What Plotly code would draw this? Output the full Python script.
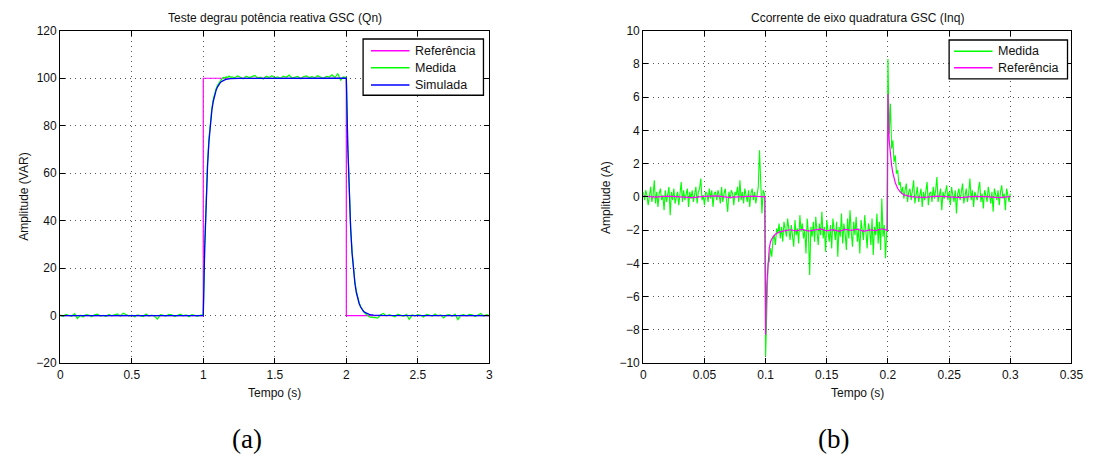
import numpy as np
import plotly.graph_objects as go

# ---------------- (a) Teste degrau potência reativa GSC (Qn) ----------------
# Reference step (VAR)
ref_a_t = [0.0, 1.0, 1.0, 2.0, 2.0, 3.0]
ref_a_v = [0.0, 0.0, 100.0, 100.0, 0.0, 0.0]

# Simulated response (VAR)
sim_a_t = [0.0, 1.00, 1.01, 1.02, 1.03, 1.04, 1.05, 1.06, 1.07, 1.08, 1.09, 1.10,
           1.11, 1.12, 1.13, 1.14, 1.15, 1.16, 1.17, 1.18, 1.19, 1.25, 2.00,
           2.01, 2.02, 2.03, 2.04, 2.05, 2.06, 2.07, 2.08, 2.09, 2.10, 2.11,
           2.12, 2.13, 2.14, 2.15, 2.16, 2.17, 2.18, 2.19, 2.25, 3.00]
sim_a_v = [0.0, 0.0, 28.3, 48.6, 63.2, 73.6, 81.1, 86.5, 90.3, 93.0, 95.0, 96.4,
           97.4, 98.2, 98.7, 99.1, 99.3, 99.5, 99.65, 99.75, 99.82, 99.95, 100.0,
           71.7, 51.4, 36.8, 26.4, 18.9, 13.5, 9.7, 7.0, 5.0, 3.6, 2.6,
           1.8, 1.3, 0.95, 0.68, 0.49, 0.35, 0.25, 0.18, 0.05, 0.0]

# Measured response (VAR), logged in blocks
med_a_pre = [0.3, -0.4, 0.5, 0.2, -0.3, 0.8, -1.2, 0.1, -0.6, 0.4,
             0.2, -0.5, 0.3, 0.6, -0.2, 0.1, -0.4, 0.5, -0.1, 0.3,
             0.7, -0.3, 1.0, 0.4, -0.2, 0.2, -0.5, 0.3, 0.1, -0.4,
             0.6, -0.2, 0.2, -0.3, -1.5, 0.4, 0.1, -0.2, 0.5, 0.3,
             -0.4, 0.2, 0.6, -0.1, 0.3, -0.5, 0.4, 0.1, -0.3, 0.2]          # 0.00 .. 0.98, dt 0.02
med_a_rise = [0.3, 29.5, 50.1, 64.6, 74.8, 82.3, 87.4, 91.2, 93.8, 95.7,
              97.0, 98.1, 98.9, 99.6, 100.3, 100.1, 100.6, 100.2, 100.9, 100.4]  # 1.00 .. 1.19, dt 0.01
med_a_high = [100.6, 100.2, 101.0, 100.4, 99.8, 100.9, 100.3, 100.7, 101.2, 100.1,
              100.5, 99.7, 100.8, 100.3, 101.1, 100.2, 100.6, 99.9, 100.9, 100.4,
              101.3, 100.1, 100.5, 100.8, 99.8, 100.6, 101.0, 100.3, 100.7, 100.2,
              101.1, 100.4, 99.9, 100.8, 100.5, 101.4, 100.2, 102.0, 99.2, 100.6]  # 1.20 .. 1.98, dt 0.02
med_a_fall = [100.3, 72.4, 51.9, 37.6, 27.1, 19.6, 14.2, 10.3, 7.4, 5.3,
              3.9, 2.6, 1.7, 1.0, 0.4, -0.2, -0.5, -0.8, -0.6, -0.9]        # 2.00 .. 2.19, dt 0.01
med_a_post = [-0.8, -1.1, 0.3, 0.9, -0.2, 0.4, 0.1, -0.5, 0.6, 0.2,
              -0.3, 0.5, -1.6, 0.3, -0.2, 0.4, 0.1, -0.6, 0.5, 0.2,
              -0.3, 0.7, -0.1, 0.3, -1.0, 0.2, 0.4, -0.3, 0.6, -1.7,
              0.1, 0.4, -0.2, 0.5, 0.3, -0.4, 0.2, 0.9, -0.3, 0.4, 0.0]     # 2.20 .. 3.00, dt 0.02

# ---------------- (b) Ccorrente de eixo quadratura GSC (Inq) ----------------
# Measured current (A), sampled every 1 ms
med_b_0 = [0.3, -0.2, 0.4, 0.1, -0.5, 0.2, 0.6, -0.3, 0.1, 1.0,
           -0.4, 0.3, -0.6, 0.2, 0.5, -0.2, 0.1, -0.8, 0.4, -0.3,
           0.2, 0.6, -1.1, 0.3, -0.2, 0.5, -0.4, 0.1, 0.3, -0.5,
           0.2, 0.9, -0.3, 0.4, -0.2, 0.1, 0.5, -0.6, 0.3, -0.1,
           0.4, -0.3, 0.2, 0.6, -0.4, 0.3, 0.5, 1.1, -0.2, 0.1,
           -0.5, 0.3, 0.2, -0.3, 0.5, -0.1, 0.4, -0.6, 0.2, 0.3,
           -0.2, 0.4, 0.1, -0.4, 0.6, -0.3, 0.2, 0.5, -0.2, -0.9,
           0.3, -0.1, 0.4, 0.2, -0.5, 0.3, 0.1, 0.6, -0.3, 1.0,
           -0.2, 0.3, -0.4, 0.5, 0.1, -0.3, 0.4, -0.6, 0.2, 0.5,
           -0.2, 0.3, -0.4, 0.2, 0.6, 2.8, 0.1, -1.0, 0.4, 0.2]           # 0.000 .. 0.099
med_b_1 = [-9.6, -6.8, -4.0, -3.9, -3.1, -3.6, -2.6, -2.3, -2.9, -1.9,
           -2.2, -1.6, -2.5, -1.8, -2.7, -1.5, -2.1, -2.4, -1.3, -2.0,
           -2.6, -1.7, -2.2, -3.0, -1.4, -2.3, -1.9, -2.8, -1.1, -2.1,
           -1.6, -2.5, -2.0, -3.4, -1.3, -2.2, -4.7, -1.8, -2.4, -1.5,
           -2.7, -1.2, -2.1, -2.9, -1.6, -2.3, -0.9, -2.5, -1.8, -3.3,
           -1.4, -2.2, -2.7, -1.7, -3.1, -1.3, -2.0, -2.6, -1.5, -3.6,
           -1.8, -2.4, -1.0, -2.8, -1.6, -2.2, -3.2, -1.3, -2.5, -0.8,
           -2.1, -3.0, -1.5, -2.3, -1.2, -2.7, -1.9, -3.4, -1.4, -2.2,
           -2.6, -1.1, -2.4, -3.1, -1.6, -2.0, -2.9, -1.3, -3.5, -1.8,
           -2.3, -1.0, -2.8, -1.5, -3.2, -0.1, -2.4, -1.7, -3.7, -2.0]    # 0.100 .. 0.199
med_b_2 = [8.3, 3.8, 5.6, 2.9, 3.4, 2.1, 2.5, 1.4, 1.6, 0.7,
           0.9, 0.2, 0.6, -0.1, 0.4, 0.8, -0.3, 0.3, 0.5, -0.2,
           0.4, 1.0, -0.4, 0.2, 0.6, -0.3, 0.1, 0.5, -0.6, 0.3,
           -0.2, 0.4, 0.9, -0.5, 0.2, 0.3, -0.3, 0.6, -0.1, 0.4,
           1.2, -0.3, 0.2, 0.5, -0.8, 0.3, -0.1, 0.4, 0.7, -0.2,
           0.3, -0.5, 0.6, 0.1, -0.3, 0.4, -1.0, 0.2, 0.5, -0.2,
           0.3, 0.8, -0.4, 0.1, 0.5, -0.3, 0.2, 1.1, -0.2, 0.4,
           -0.6, 0.3, 0.1, -0.2, 0.5, 0.9, -0.3, 0.2, -0.7, 0.4,
           0.1, -0.3, 0.6, 0.2, -0.4, 0.3, -0.9, 0.5, 0.1, -0.2,
           0.4, -0.5, 0.3, 0.7, -0.1, 0.2, -0.8, 0.5, 0.1, -0.3, 0.2]    # 0.200 .. 0.300

# Reference current (A)
ref_b_t = [0.0, 0.01, 0.02, 0.03, 0.04, 0.05, 0.06, 0.07, 0.08, 0.09, 0.0995,
           0.1, 0.1005, 0.101, 0.102, 0.103, 0.104, 0.106, 0.108, 0.111, 0.115,
           0.12, 0.125, 0.13, 0.135, 0.14, 0.145, 0.15, 0.155, 0.16, 0.165,
           0.17, 0.175, 0.18, 0.185, 0.19, 0.195, 0.1995,
           0.2, 0.2005, 0.201, 0.202, 0.203, 0.204, 0.206, 0.208, 0.21, 0.213,
           0.217, 0.22, 0.23, 0.24, 0.25, 0.26, 0.27, 0.28, 0.29, 0.30]
ref_b_v = [0.05, -0.02, 0.04, 0.0, -0.05, 0.03, 0.06, -0.03, 0.02, 0.04, 0.0,
           -8.3, -6.6, -5.2, -3.8, -3.1, -2.7, -2.4, -2.25, -2.12, -2.05,
           -1.98, -2.04, -1.95, -2.06, -2.0, -1.93, -2.05, -1.97, -2.08, -1.96,
           -2.02, -1.94, -2.07, -1.99, -2.03, -1.92, -2.02,
           6.2, 4.4, 3.4, 2.5, 1.9, 1.45, 0.85, 0.5, 0.3, 0.12,
           0.04, 0.0, -0.03, 0.04, 0.0, -0.05, 0.03, 0.02, -0.04, 0.01]


def sample_times(t0, dt, values):
    """Sample instants of a uniformly logged block."""
    return np.round(t0 + dt * np.arange(len(values)), 6)


med_a_t = np.concatenate([
    sample_times(0.0, 0.02, med_a_pre),
    sample_times(1.0, 0.01, med_a_rise),
    sample_times(1.2, 0.02, med_a_high),
    sample_times(2.0, 0.01, med_a_fall),
    sample_times(2.2, 0.02, med_a_post),
])
med_a_v = med_a_pre + med_a_rise + med_a_high + med_a_fall + med_a_post

med_b_t = np.concatenate([
    sample_times(0.0, 0.001, med_b_0),
    sample_times(0.1, 0.001, med_b_1),
    sample_times(0.2, 0.001, med_b_2),
])
med_b_v = med_b_0 + med_b_1 + med_b_2

MAGENTA = "#ff00ff"
GREEN = "#00ff00"
BLUE = "#0000ff"

W, H = 1117, 467
FONT = "Liberation Sans, Arial, sans-serif"
TEXT = "#111111"


def px_x(p):
    return p / W


def px_y(p):
    return 1 - p / H


fig = go.Figure()

fig.add_trace(go.Scatter(x=ref_a_t, y=ref_a_v, mode="lines", name="Referência",
                         line=dict(color=MAGENTA, width=1.2), xaxis="x", yaxis="y"))
fig.add_trace(go.Scatter(x=med_a_t, y=med_a_v, mode="lines", name="Medida",
                         line=dict(color=GREEN, width=1.2), xaxis="x", yaxis="y"))
fig.add_trace(go.Scatter(x=sim_a_t, y=sim_a_v, mode="lines", name="Simulada",
                         line=dict(color=BLUE, width=1.3), xaxis="x", yaxis="y"))

fig.add_trace(go.Scatter(x=med_b_t, y=med_b_v, mode="lines", name="Medida",
                         line=dict(color=GREEN, width=1.1), xaxis="x2", yaxis="y2"))
fig.add_trace(go.Scatter(x=ref_b_t, y=ref_b_v, mode="lines", name="Referência",
                         line=dict(color=MAGENTA, width=1.2), xaxis="x2", yaxis="y2"))

axis_style = dict(
    showline=True, linecolor="black", linewidth=1.3, mirror="allticks",
    ticks="inside", ticklen=5, tickcolor="black", tickwidth=1,
    showgrid=True, gridcolor="#555555", griddash="1px,4px", gridwidth=1,
    zeroline=False, tickfont=dict(family=FONT, size=12, color=TEXT),
)

left_dom = [px_x(58), px_x(493)]
right_dom = [px_x(649), px_x(1083)]
y_dom = [px_y(367), px_y(24.5)]

fig.update_layout(
    width=W, height=H,
    margin=dict(l=0, r=0, t=0, b=0),
    paper_bgcolor="white", plot_bgcolor="white",
    font=dict(family=FONT, size=12, color=TEXT),
    showlegend=False,
    xaxis=dict(domain=left_dom, range=[0, 3], tickvals=[0, 0.5, 1, 1.5, 2, 2.5, 3],
               ticktext=["0", "0.5", "1", "1.5", "2", "2.5", "3"], anchor="y", **axis_style),
    yaxis=dict(domain=y_dom, range=[-20, 120], tickvals=list(range(-20, 121, 20)),
               anchor="x", **axis_style),
    xaxis2=dict(domain=right_dom, range=[0, 0.35],
                tickvals=[0, 0.05, 0.1, 0.15, 0.2, 0.25, 0.3, 0.35],
                ticktext=["0", "0.05", "0.1", "0.15", "0.2", "0.25", "0.3", "0.35"],
                anchor="y2", **axis_style),
    yaxis2=dict(domain=y_dom, range=[-10, 10], tickvals=list(range(-10, 11, 2)),
                anchor="x2", **axis_style),
)

annotations = [
    dict(text="Teste degrau potência reativa GSC (Qn)", x=(left_dom[0] + left_dom[1]) / 2,
         y=px_y(11), xanchor="center"),
    dict(text="Ccorrente de eixo quadratura GSC (Inq)", x=(right_dom[0] + right_dom[1]) / 2,
         y=px_y(11), xanchor="center"),
    dict(text="Tempo (s)", x=(left_dom[0] + left_dom[1]) / 2, y=px_y(398), xanchor="center"),
    dict(text="Tempo (s)", x=(right_dom[0] + right_dom[1]) / 2, y=px_y(398), xanchor="center"),
    dict(text="Amplitude (VAR)", x=px_x(21), y=px_y(196), textangle=-90, xanchor="center"),
    dict(text="Amplitude (A)", x=px_x(611), y=px_y(196), textangle=-90, xanchor="center"),
    dict(text="(a)", x=px_x(247), y=px_y(445), xanchor="center",
         font=dict(family="Liberation Serif, DejaVu Serif, serif", size=27, color="black")),
    dict(text="(b)", x=px_x(842), y=px_y(445), xanchor="center",
         font=dict(family="Liberation Serif, DejaVu Serif, serif", size=27, color="black")),
]

# Legend boxes: (box left, top, right, bottom in px), entries (label, colour, row y in px)
legend_boxes = [
    ((365, 33, 487, 91), 373, 412, 416,
     [("Referência", MAGENTA, 45), ("Medida", GREEN, 62.5), ("Simulada", BLUE, 80.5)]),
    ((959, 34, 1079, 74), 964, 1003, 1007,
     [("Medida", GREEN, 45.5), ("Referência", MAGENTA, 62.5)]),
]

shapes = []
for (x0, y0, x1, y1), lx0, lx1, tx, entries in legend_boxes:
    shapes.append(dict(type="rect", xref="paper", yref="paper",
                       x0=px_x(x0), x1=px_x(x1), y0=px_y(y1), y1=px_y(y0),
                       line=dict(color="black", width=1.3), fillcolor="white", layer="above"))
    for label, color, ry in entries:
        shapes.append(dict(type="line", xref="paper", yref="paper",
                           x0=px_x(lx0), x1=px_x(lx1), y0=px_y(ry), y1=px_y(ry),
                           line=dict(color=color, width=1.5), layer="above"))
        annotations.append(dict(text=label, x=px_x(tx), y=px_y(ry), xanchor="left",
                                font=dict(size=12.5)))

for a in annotations:
    a.update(xref="paper", yref="paper", showarrow=False, yanchor="middle")
    a.setdefault("font", dict(size=12))

fig.update_layout(annotations=annotations, shapes=shapes)

fig.write_html("out.html")
